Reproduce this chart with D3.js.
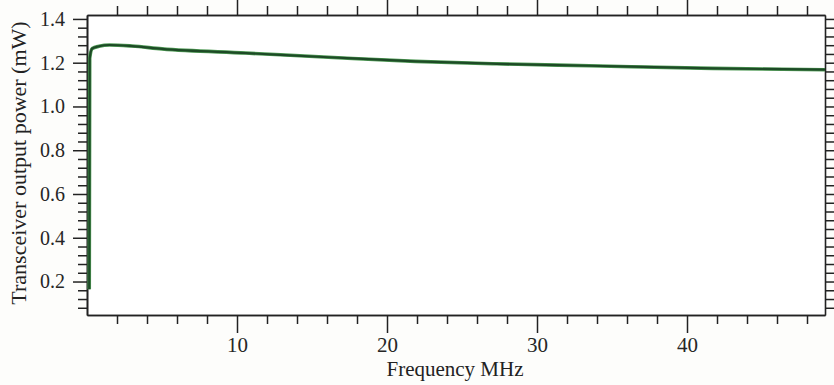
<!DOCTYPE html>
<html><head><meta charset="utf-8">
<script src="https://cdn.jsdelivr.net/npm/d3@7"></script>
<style>html,body{margin:0;padding:0;background:#fdfdfb;}svg{display:block;}</style>
</head><body>
<svg id="c" width="834" height="385"></svg>
<script>
// Data
const frequencyMHz = [0.15, 0.18, 0.35, 0.8, 1.5, 3, 5, 10.6, 16.1, 21.9, 27.3, 33.5, 41.7, 49.2];
const powerMW      = [0.165, 1.22, 1.265, 1.275, 1.281, 1.276, 1.263, 1.244, 1.225, 1.206, 1.195, 1.186, 1.174, 1.168];
const xTickLabels = [10, 20, 30, 40];
const yTickLabels = [0.2, 0.4, 0.6, 0.8, 1.0, 1.2, 1.4];
const xLabel = "Frequency MHz";
const yLabel = "Transceiver output power (mW)";

const svg = d3.select("#c");
const L = 87, R = 825, T = 15, B = 315;
const x = d3.scaleLinear().domain([0, 49.2]).range([L, R]);
const y = d3.scaleLinear().domain([0.047, 1.418]).range([B, T]);
const axisColor = "#222";
const font = "'Liberation Serif','Times New Roman',serif";

svg.append("rect").attr("x", L).attr("y", T).attr("width", R - L).attr("height", B - T).attr("fill", "#fff");

const xMinor = d3.range(2, 49.2, 2).filter(v => v % 10 !== 0);
const yAll = d3.range(0.08, 1.418, 0.04).map(v => +v.toFixed(2));
const yMinor = yAll.filter(v => Math.abs(v * 5 - Math.round(v * 5)) > 1e-6);

function styleAxis(g) {
  g.selectAll("path.domain").attr("stroke", axisColor).attr("stroke-width", 1.6);
  g.selectAll(".tick line").attr("stroke", axisColor).attr("stroke-width", 1.5);
  g.selectAll("text").attr("fill", "#262626").attr("font-family", font);
}

// bottom axis
const gb = svg.append("g").attr("transform", `translate(0,${B})`)
  .call(d3.axisBottom(x).tickValues(xTickLabels).tickSize(18).tickPadding(4).tickFormat(d3.format("d")).tickSizeOuter(0));
gb.selectAll("text").attr("font-size", 21);
styleAxis(gb);
const gbm = svg.append("g").attr("transform", `translate(0,${B})`)
  .call(d3.axisBottom(x).tickValues(xMinor).tickSize(9).tickFormat("").tickSizeOuter(0));
styleAxis(gbm);

// top axis
const gt = svg.append("g").attr("transform", `translate(0,${T})`)
  .call(d3.axisTop(x).tickValues(xTickLabels).tickSize(16).tickFormat("").tickSizeOuter(0));
styleAxis(gt);
const gtm = svg.append("g").attr("transform", `translate(0,${T})`)
  .call(d3.axisTop(x).tickValues(xMinor).tickSize(9).tickFormat("").tickSizeOuter(0));
styleAxis(gtm);

// left axis
const gl = svg.append("g").attr("transform", `translate(${L},0)`)
  .call(d3.axisLeft(y).tickValues(yTickLabels).tickSize(14).tickPadding(8).tickFormat(d3.format(".1f")).tickSizeOuter(0));
gl.selectAll("text").attr("font-size", 20);
styleAxis(gl);
const glm = svg.append("g").attr("transform", `translate(${L},0)`)
  .call(d3.axisLeft(y).tickValues(yMinor).tickSize(9).tickFormat("").tickSizeOuter(0));
styleAxis(glm);

// right axis
const gr = svg.append("g").attr("transform", `translate(${R},0)`)
  .call(d3.axisRight(y).tickValues(yAll).tickSize(9).tickFormat("").tickSizeOuter(0));
styleAxis(gr);

// axis labels
svg.append("text").attr("x", 455).attr("y", 376).attr("text-anchor", "middle")
  .attr("font-family", font).attr("font-size", 21).attr("fill", "#222").text(xLabel);
svg.append("text").attr("transform", `translate(26,${163}) rotate(-90)`).attr("text-anchor", "middle")
  .attr("font-family", font).attr("font-size", 22).attr("fill", "#222").text(yLabel);

// curve
const pts = frequencyMHz.map((f, i) => [f, powerMW[i]]);
const line = d3.line().x(d => x(d[0])).y(d => y(d[1])).curve(d3.curveMonotoneX);
svg.append("path").datum(pts).attr("d", line).attr("fill", "none")
  .attr("stroke", "#4f9a55").attr("stroke-width", 3.6).attr("stroke-linejoin", "round");
svg.append("path").datum(pts).attr("d", line).attr("fill", "none")
  .attr("stroke", "#1d4a26").attr("stroke-width", 2.2).attr("stroke-linejoin", "round");
</script>
</body></html>
